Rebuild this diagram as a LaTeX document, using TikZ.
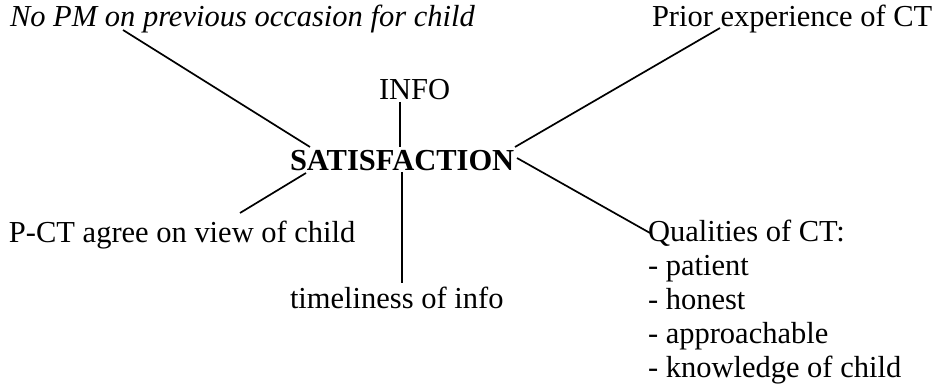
\documentclass[tikz,border=0pt]{standalone}
\usepackage{fontspec}
\setmainfont{Liberation Serif}
\begin{document}
\begin{tikzpicture}[x=1pt,y=1pt,
  lbl/.style={inner sep=0pt,outer sep=0pt,anchor=base west,font=\fontsize{30.5}{34}\selectfont},
  conn/.style={line width=1.7pt,black}]
\useasboundingbox (0,0) rectangle (938,388);
\node[lbl,font=\fontsize{30.5}{34}\selectfont\itshape] (nopm) at (10,361) {No PM on previous occasion for child};
\node[lbl] (prior) at (652,361) {Prior experience of CT};
\node[lbl] (info) at (379,288) {INFO};
\node[lbl,font=\fontsize{30.5}{34}\selectfont\bfseries] (sat) at (290,217) {SATISFACTION};
\node[lbl] (pct) at (9,145) {P-CT agree on view of child};
\node[lbl] (time) at (290,79) {timeliness of info};
\node[lbl] (qual) at (648,146) {\begin{tabular}[t]{@{}l@{}}Qualities of CT:\\- patient\\- honest\\- approachable\\- knowledge of child\end{tabular}};
% connector ends
\coordinate (nopmE) at (123,358);
\coordinate (satNW) at (310,241);
\coordinate (infoS) at (400,286);
\coordinate (satN) at (400,241);
\coordinate (satS) at (402,216);
\coordinate (timeN) at (402,105);
\coordinate (satSW) at (306,215);
\coordinate (pctE) at (240,175);
\coordinate (satNE) at (515,241);
\coordinate (priorE) at (720,360);
\coordinate (satSE) at (517,230);
\coordinate (qualW) at (650,155);
\draw[conn] (nopmE) -- (satNW);
\draw[conn] (infoS) -- (satN);
\draw[conn] (satS) -- (timeN);
\draw[conn] (satSW) -- (pctE);
\draw[conn] (satNE) -- (priorE);
\draw[conn] (satSE) -- (qualW);
\end{tikzpicture}
\end{document}
